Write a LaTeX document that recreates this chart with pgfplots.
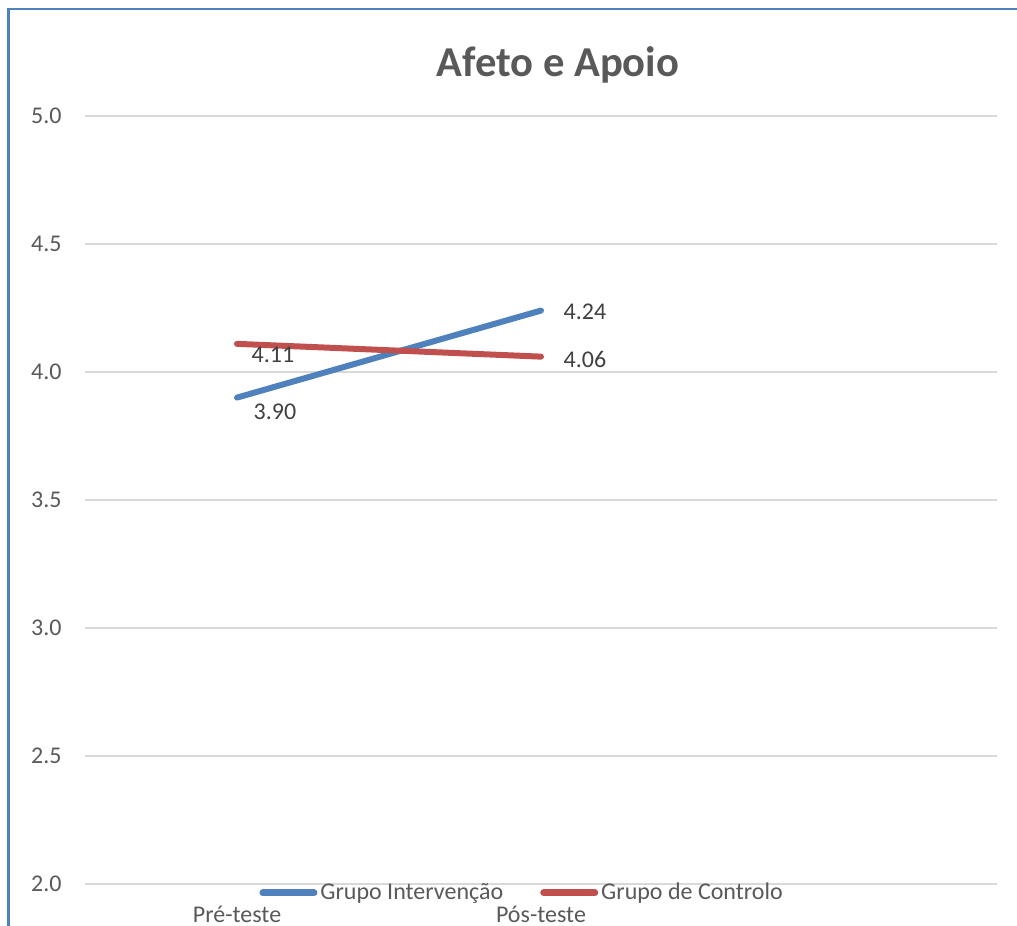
\documentclass[border=0pt]{standalone}
\usepackage{pgfplots}
\pgfplotsset{compat=1.18}
\usepackage{fontspec}
\setmainfont{Carlito}
\definecolor{frameblue}{HTML}{4F81BD}
\definecolor{serblue}{HTML}{4F81BD}
\definecolor{serred}{HTML}{C0504D}
\definecolor{gridc}{HTML}{D9D9D9}
\definecolor{txt}{HTML}{595959}
\definecolor{lbl}{HTML}{404040}
\begin{document}
\begin{tikzpicture}
\path[use as bounding box] (0,0) rectangle (508.5pt,-463pt);
\draw[frameblue, line width=1.3pt] (4.2pt,-470pt) -- (4.2pt,-4.5pt) -- (515pt,-4.5pt);
\node[anchor=base, text=txt, font=\fontsize{21.3pt}{25pt}\selectfont\bfseries] at (279pt,-38pt) {Afeto e Apoio};
\begin{axis}[
  at={(42.5pt,-442pt)}, anchor=south west,
  scale only axis, width=456pt, height=384pt,
  xmin=-0.5, xmax=2.5, ymin=2, ymax=5,
  xtick={0,1}, xticklabels={Pré-teste,Pós-teste},
  ytick={2,2.5,3,3.5,4,4.5,5},
  yticklabel style={/pgf/number format/.cd, fixed, fixed zerofill, precision=1, /tikz/.cd},
  /pgf/number format/assume math mode=true,
  axis line style={draw=none},
  major tick length=0pt,
  ymajorgrids, major grid style={gridc, line width=0.9pt},
  tick label style={text=txt, font=\fontsize{12pt}{14pt}\selectfont},
  yticklabel style={anchor=east, inner sep=0pt, xshift=-11.5pt},
  xticklabel style={anchor=base, inner sep=0pt, yshift=-19pt},
  clip=false,
  legend columns=2,
  legend style={at={(0.4765,-0.0117)}, anchor=center, draw=none, fill=none,
    font=\fontsize{12pt}{14pt}\selectfont, text=txt, inner sep=0pt,
    /tikz/every even column/.append style={column sep=17pt},
    nodes={inner sep=0pt}},
  legend image code/.code={\draw[#1, line width=3.5pt, line cap=round] (1.75pt,0pt) -- (27.25pt,0pt); \path (0pt,0pt) (29pt,0pt);},
]
\addplot[serblue, line width=3pt, line cap=round] coordinates {(0,3.90) (1,4.24)}
  node[pos=0, text=lbl, font=\fontsize{12pt}{14pt}\selectfont, xshift=19pt, yshift=-7pt] {3.90}
  node[pos=1, text=lbl, font=\fontsize{12pt}{14pt}\selectfont, xshift=22pt, yshift=-0.7pt] {4.24};
\addlegendentry{Grupo Intervenção}
\addplot[serred, line width=3pt, line cap=round] coordinates {(0,4.11) (1,4.06)}
  node[pos=0, text=lbl, font=\fontsize{12pt}{14pt}\selectfont, xshift=18pt, yshift=-5.5pt] {4.11}
  node[pos=1, text=lbl, font=\fontsize{12pt}{14pt}\selectfont, xshift=22pt, yshift=-1.2pt] {4.06};
\addlegendentry{Grupo de Controlo}
\end{axis}
\end{tikzpicture}
\end{document}
